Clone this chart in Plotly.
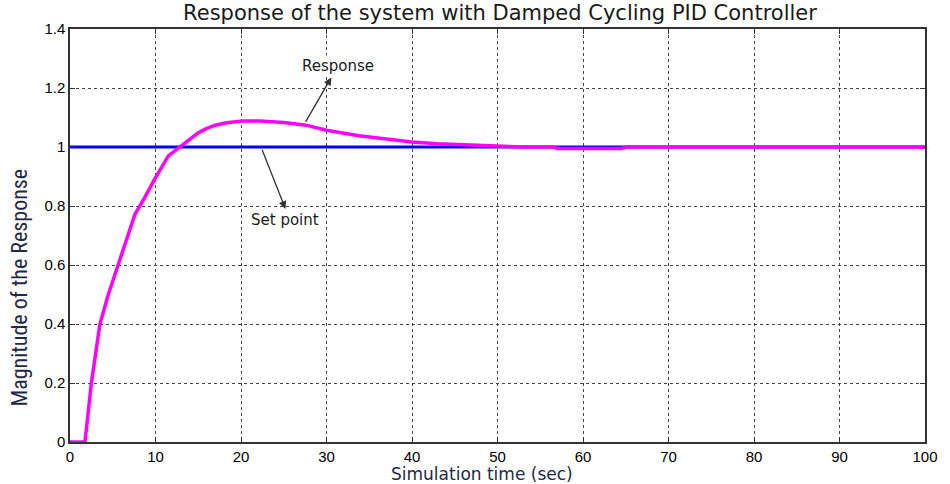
import plotly.graph_objects as go

# Data
t_resp = [0, 1.55, 1.75, 2.5, 3.5, 4.5, 5.6, 6.6, 7.6, 8.75, 9.9, 11.5, 12.8, 14, 15, 16, 17,
          18.3, 20.2, 22.2, 25, 27.6, 30, 33.8, 37, 40, 43, 45.5, 48, 50.2, 53, 56.5,
          57, 64.5, 65, 70, 80, 90, 100]
y_resp = [0, 0, 0, 0.2, 0.4, 0.502, 0.6, 0.688, 0.772, 0.829, 0.891, 0.97, 1.0, 1.027, 1.048, 1.063, 1.074,
          1.082, 1.088, 1.088, 1.083, 1.074, 1.057, 1.038, 1.026, 1.017, 1.011, 1.008, 1.004, 1.002, 1.0, 1.0,
          0.995, 0.995, 1.0, 1.0, 1.0, 1.0, 1.0]
t_set = [0, 100]
y_set = [1, 1]

x_ticks = [0, 10, 20, 30, 40, 50, 60, 70, 80, 90, 100]
y_ticks = [0, 0.2, 0.4, 0.6, 0.8, 1, 1.2, 1.4]
y_tick_text = ["0", "0.2", "0.4", "0.6", "0.8", "1", "1.2", "1.4"]

fig = go.Figure()
fig.add_trace(go.Scatter(x=t_set, y=y_set, mode="lines",
                         line=dict(color="#0000ff", width=3), showlegend=False))
fig.add_trace(go.Scatter(x=t_resp, y=y_resp, mode="lines",
                         line=dict(color="#ff00ff", width=3.5), showlegend=False))

tickfont = dict(family="Liberation Sans, Arial, sans-serif", size=15, color="#000")
axis_common = dict(showline=True, linecolor="#333", linewidth=1.5, mirror="ticks",
                   ticks="inside", ticklen=5, tickcolor="#333",
                   showgrid=True, gridcolor="#444", griddash="dot", gridwidth=1,
                   zeroline=False, tickfont=tickfont)

fig.update_xaxes(range=[0, 100], tickvals=x_ticks, ticklabelstandoff=0, **axis_common)
fig.update_yaxes(range=[0, 1.4], tickvals=y_ticks, ticktext=y_tick_text, **axis_common)

fig.update_layout(
    width=950, height=484,
    margin=dict(l=70, r=18, t=29, b=42),
    plot_bgcolor="white", paper_bgcolor="white",
    title=dict(text="Response of the system with Damped Cycling PID Controller",
               x=(500 / 950), xanchor="center", y=1 - 13 / 484, yanchor="middle",
               font=dict(family="DejaVu Sans, sans-serif", size=21, color="#1a1a1a")),
)

fig.add_annotation(text="Simulation time (sec)", xref="paper", yref="paper",
                   x=(485 - 70) / 862, y=(442 - 474) / 413, showarrow=False,
                   xanchor="center", yanchor="middle",
                   font=dict(family="DejaVu Sans, sans-serif", size=17, color="#1f2a44"))
fig.add_annotation(text="Magnitude of the Response", xref="paper", yref="paper",
                   x=(19 - 70) / 862, y=(442 - 287) / 413, showarrow=False, textangle=-90,
                   xanchor="center", yanchor="middle",
                   font=dict(family="Liberation Sans Narrow, Roboto Condensed, Roboto, sans-serif",
                             size=22, color="#1f2a44"))

annot_font = dict(family="DejaVu Sans, sans-serif", size=15, color="#1a1a1a")
fig.add_annotation(x=30.56, y=1.236, ax=27.46, ay=1.080, xref="x", yref="y",
                   axref="x", ayref="y", text="", showarrow=True,
                   arrowhead=2, arrowsize=1.2, arrowwidth=1.3, arrowcolor="#333")
fig.add_annotation(x=31.3, y=1.275, text="Response", showarrow=False,
                   font=annot_font, bgcolor="white")
fig.add_annotation(x=25.2, y=0.79, ax=22.4, ay=0.996, xref="x", yref="y",
                   axref="x", ayref="y", text="", showarrow=True,
                   arrowhead=2, arrowsize=1.2, arrowwidth=1.3, arrowcolor="#333")
fig.add_annotation(x=25.2, y=0.752, text="Set point", showarrow=False,
                   font=annot_font, bgcolor="white")

fig.write_html("out.html")
